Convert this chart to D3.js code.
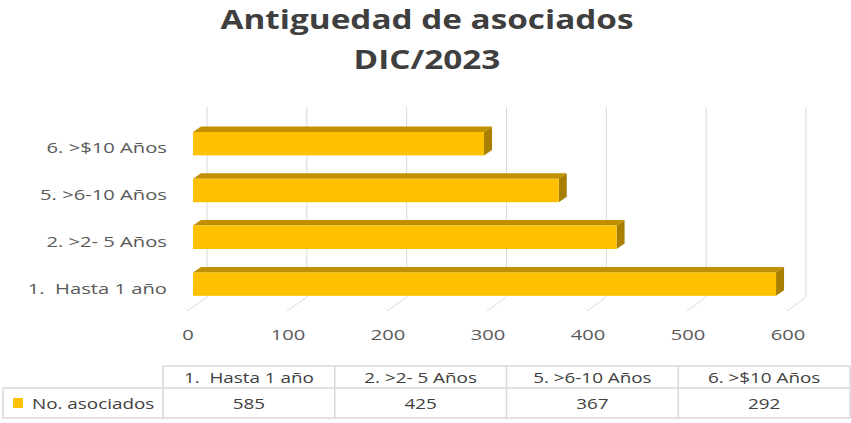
<!DOCTYPE html>
<html>
<head>
<meta charset="utf-8">
<script src="https://cdn.jsdelivr.net/npm/d3@7"></script>
<style>
  body { margin: 0; background: #fff; }
  svg { display: block; font-family: "Open Sans", sans-serif; }
</style>
</head>
<body>
<svg id="chart" width="851" height="423"></svg>
<script>
const titleLines = ["Antiguedad de asociados", "DIC/2023"];
const categories = ["1.  Hasta 1 año", "2. >2- 5 Años", "5. >6-10 Años", "6. >$10 Años"];
const values = [585, 425, 367, 292];
const xTicks = [0, 100, 200, 300, 400, 500, 600];
const seriesName = "No. asociados";

const data = categories.map((c, i) => ({ cat: c, value: values[i] }));

const svg = d3.select('#chart');

// 3d offsets
const barDx = 8, barDy = -5.5;

// x scales for the front of the bars, back wall and floor edge
const xFront = d3.scaleLinear().domain([0, 600]).range([193, 791]);
const xBack = d3.scaleLinear().domain([0, 600]).range([207, 806]);
const xFloor = d3.scaleLinear().domain([0, 600]).range([187, 787]);

// top category first
const y = d3.scaleBand()
    .domain(categories.slice().reverse())
    .range([120.3, 307.5])
    .paddingInner(0.5)
    .paddingOuter(0.25);

const wallTop = 107, wallBottom = 297, floorFront = 311;

// helper to stretch text horizontally like the original
function stretch(sel, k) {
    sel.each(function() {
        const w = this.getComputedTextLength();
        d3.select(this).attr('textLength', w * k).attr('lengthAdjust', 'spacingAndGlyphs');
    });
}

// gridlines on back wall
svg.append('g').selectAll('line')
    .data(xTicks)
    .enter().append('line')
    .attr('x1', d => xBack(d)).attr('x2', d => xBack(d))
    .attr('y1', wallTop).attr('y2', wallBottom)
    .style('stroke', '#d9d9d9').style('stroke-width', 1);

// floor lines
svg.append('g').selectAll('line')
    .data(xTicks)
    .enter().append('line')
    .attr('x1', d => xBack(d)).attr('y1', wallBottom)
    .attr('x2', d => xFloor(d)).attr('y2', floorFront)
    .style('stroke', '#d9d9d9').style('stroke-width', 1);

// bars
const bars = svg.append('g').selectAll('g')
    .data(data)
    .enter().append('g');

bars.append('path') // top face
    .attr('d', d => {
        const x0 = xFront(0), x1 = xFront(d.value), yy = y(d.cat);
        return `M${x0},${yy}L${x0 + barDx},${yy + barDy}L${x1 + barDx},${yy + barDy}L${x1},${yy}Z`;
    })
    .style('fill', '#c09000');

bars.append('path') // side face
    .attr('d', d => {
        const x1 = xFront(d.value), yy = y(d.cat), h = y.bandwidth();
        return `M${x1},${yy}L${x1 + barDx},${yy + barDy}L${x1 + barDx},${yy + h + barDy}L${x1},${yy + h}Z`;
    })
    .style('fill', '#a87f00');

bars.append('rect') // front face
    .attr('x', xFront(0))
    .attr('y', d => y(d.cat))
    .attr('width', d => xFront(d.value) - xFront(0))
    .attr('height', y.bandwidth())
    .style('fill', '#ffc000');

// measure the stretch factor for regular text
const probe = svg.append('text').style('font-size', '15px').text(categories[0]);
const k = 134 / probe.node().getComputedTextLength();
probe.remove();

// category labels
const catLabels = svg.append('g').selectAll('text')
    .data(categories)
    .enter().append('text')
    .attr('x', 167)
    .attr('y', d => y(d) + y.bandwidth() / 2 + 9.5)
    .attr('text-anchor', 'end')
    .style('font-size', '15px')
    .style('fill', '#595959')
    .style('white-space', 'pre')
    .text(d => d);
stretch(catLabels, k);

// x tick labels
const tickLabels = svg.append('g').selectAll('text')
    .data(xTicks)
    .enter().append('text')
    .attr('x', d => xFloor(d) + 1)
    .attr('y', 340)
    .attr('text-anchor', 'middle')
    .style('font-size', '15px')
    .style('fill', '#595959')
    .text(d => d);
stretch(tickLabels, k);

// title
const title = svg.append('g').selectAll('text')
    .data(titleLines)
    .enter().append('text')
    .attr('x', 427)
    .attr('y', (d, i) => 29 + i * 39.5)
    .attr('text-anchor', 'middle')
    .style('font-size', '27px')
    .style('font-weight', 'bold')
    .style('fill', '#3f3f3f')
    .text(d => d);
const tprobe = title.filter((d, i) => i === 0).node().getComputedTextLength();
stretch(title, 413 / tprobe);

// data table
const col = d3.scaleBand().domain(categories).range([163, 850]);
const rowTop = 366, rowMid = 388, rowBottom = 418, legendLeft = 3;
const table = svg.append('g');

const border = '#d9d9d9';
table.append('line').attr('x1', col.range()[0]).attr('x2', 850).attr('y1', rowTop).attr('y2', rowTop);
table.append('line').attr('x1', legendLeft).attr('x2', 850).attr('y1', rowMid).attr('y2', rowMid);
table.append('line').attr('x1', legendLeft).attr('x2', 850).attr('y1', rowBottom).attr('y2', rowBottom);
table.append('line').attr('x1', legendLeft).attr('x2', legendLeft).attr('y1', rowMid).attr('y2', rowBottom);
table.selectAll('.vline')
    .data(categories)
    .enter().append('line')
    .attr('class', 'vline')
    .attr('x1', d => col(d)).attr('x2', d => col(d))
    .attr('y1', rowTop).attr('y2', rowBottom);
table.append('line').attr('x1', 850).attr('x2', 850).attr('y1', rowTop).attr('y2', rowBottom);
table.selectAll('line').style('stroke', border).style('stroke-width', 1.5);

const headers = table.selectAll('.hdr')
    .data(categories)
    .enter().append('text')
    .attr('class', 'hdr')
    .attr('x', d => col(d) + col.bandwidth() / 2)
    .attr('y', 382.5)
    .attr('text-anchor', 'middle')
    .style('font-size', '14px')
    .style('fill', '#404040')
    .style('white-space', 'pre')
    .text(d => d);
stretch(headers, k);

const cells = table.selectAll('.val')
    .data(data)
    .enter().append('text')
    .attr('class', 'val')
    .attr('x', d => col(d.cat) + col.bandwidth() / 2)
    .attr('y', 408.5)
    .attr('text-anchor', 'middle')
    .style('font-size', '14px')
    .style('fill', '#404040')
    .text(d => d.value);
stretch(cells, k);

table.append('rect')
    .attr('x', 13).attr('y', 398)
    .attr('width', 10).attr('height', 10)
    .style('fill', '#ffc000');

const legendText = table.append('text')
    .attr('x', 32).attr('y', 408.5)
    .style('font-size', '14px')
    .style('fill', '#404040')
    .text(seriesName);
stretch(legendText, k);
</script>
</body>
</html>
